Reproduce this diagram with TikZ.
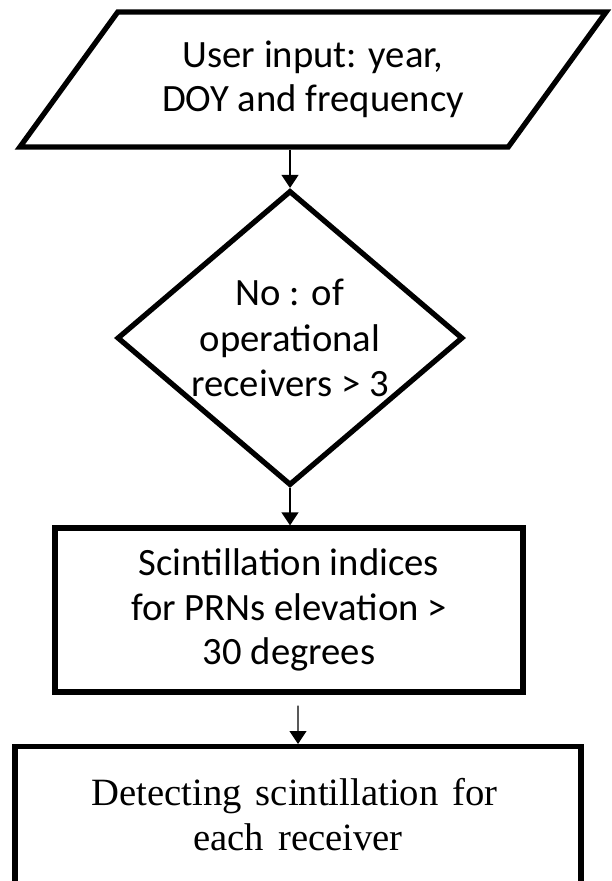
\documentclass[tikz,border=0pt]{standalone}
\usepackage{fontspec}
\setmainfont{Carlito}
\newfontfamily\timesface{Liberation Serif}
\usetikzlibrary{shapes.geometric,arrows.meta,calc}

\begin{document}
\begin{tikzpicture}[x=0.02cm,y=-0.02cm,
    box/.style={draw,line width=3pt,align=center,font=\fontsize{22}{25.2}\selectfont},
    iobox/.style={box,trapezium,trapezium left angle=48.4,trapezium right angle=131.6,
        trapezium stretches=true,minimum width=11.76cm,minimum height=2.7cm,
        font=\fontsize{22}{25}\selectfont},
    decision/.style={box,diamond,aspect=1.17,inner sep=0pt,minimum width=6.92cm,
        minimum height=5.9cm,font=\fontsize{22}{26}\selectfont},
    procbox/.style={box,rectangle},
    flow/.style={-{Triangle[width=0.34cm,length=0.26cm]},line width=0.7pt}]
    \useasboundingbox (0,0) rectangle (611,881);
    \clip (0,0) rectangle (611,881);

    % input, test and the two steps
    \node[iobox] (input) at (313,79.5) {User input: year,\\DOY and frequency};
    \node[decision] (dec) at (290,338) {No : of\\operational\\receivers > 3};
    \node[procbox,minimum width=9.36cm,minimum height=3.28cm] (scint) at (289,610)
        {Scintillation indices\\for PRNs elevation >\\30 degrees};
    \node[procbox,anchor=north,minimum width=11.32cm,inner ysep=0.64cm,text depth=2.6cm,
        font={\timesface\fontsize{22}{25.5}\selectfont\spaceskip=8pt\relax}] (detect) at (298,744)
        {\makebox[8.26cm][s]{Detecting scintillation for}\\each receiver};

    % arrows
    \draw[flow] (input.south -| dec.north) -- (dec.north);
    \draw[flow] (dec.south) -- (dec.south |- scint.north);
    \draw[flow] ([xshift=0.18cm,yshift=-0.22cm]scint.south) -- (detect.north);
\end{tikzpicture}
\end{document}
